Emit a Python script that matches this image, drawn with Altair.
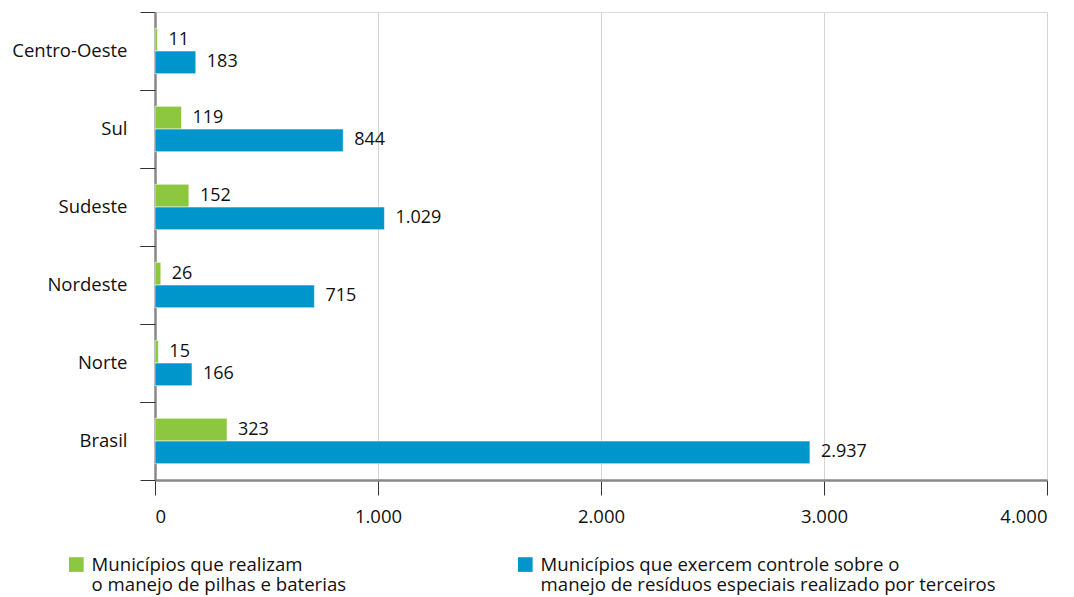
import altair as alt
import pandas as pd

# Regions, top to bottom
regioes = ["Centro-Oeste", "Sul", "Sudeste", "Nordeste", "Norte", "Brasil"]

# Number of municipalities per series
pilhas = [11, 119, 152, 26, 15, 323]
terceiros = [183, 844, 1029, 715, 166, 2937]

series = [
    "Municípios que realizam\no manejo de pilhas e baterias",
    "Municípios que exercem controle sobre o\nmanejo de resíduos especiais realizado por terceiros",
]
cores = ["#8dc63f", "#0096cc"]
x_ticks = [0, 1000, 2000, 3000, 4000]

rows = []
for reg, a, b in zip(regioes, pilhas, terceiros):
    rows.append({"regiao": reg, "serie": series[0], "valor": a})
    rows.append({"regiao": reg, "serie": series[1], "valor": b})
df = pd.DataFrame(rows)

FONT = "Open Sans"
FS_AXIS = 18.5
FS_VAL = 18
FS_LEG = 18.6
thousands = "replace(format(datum.value, ','), ',', '.')"

x_enc = alt.X(
    "valor:Q",
    scale=alt.Scale(domain=[0, 4000], nice=False),
    axis=alt.Axis(
        values=x_ticks,
        labelExpr=thousands,
        title=None,
        grid=True,
        gridColor="#d4d4d4",
        gridWidth=1,
        tickSize=15,
        tickColor="#333333",
        tickWidth=1,
        domainColor="#888888",
        domainWidth=2.5,
        labelPadding=12,
        labelFontSize=FS_AXIS,
        labelColor="#111111",
        labelFont=FONT,
    ),
)

y_scale = alt.Scale(paddingInner=0, paddingOuter=0)
off_enc = alt.YOffset(
    "serie:N", sort=series, scale=alt.Scale(paddingInner=0, paddingOuter=0.72)
)

bars = (
    alt.Chart(df)
    .mark_bar(stroke="white", strokeWidth=1, strokeOpacity=0.55)
    .encode(
        x=x_enc,
        y=alt.Y(
            "regiao:N",
            sort=regioes,
            scale=y_scale,
            axis=alt.Axis(
                orient="left",
                title=None,
                bandPosition=0,
                tickSize=15,
                tickColor="#333333",
                tickWidth=1,
                domainColor="#888888",
                domainWidth=2.5,
                labelPadding=13,
                labelFontSize=FS_AXIS,
                labelFont=FONT,
                labelColor="#111111",
                grid=False,
            ),
        ),
        yOffset=off_enc,
        color=alt.Color(
            "serie:N",
            sort=series,
            scale=alt.Scale(domain=series, range=cores),
            legend=alt.Legend(
                title=None,
                orient="none",
                legendX=-88,
                legendY=543,
                direction="horizontal",
                columns=2,
                columnPadding=169,
                symbolType="square",
                symbolSize=215,
                symbolStrokeWidth=0,
                symbolOpacity=1,
                labelFontSize=FS_LEG,
                labelFont=FONT,
                labelColor="#111111",
                labelLimit=0,
                labelOffset=6,
                labelExpr="split(datum.label, '\\n')",
            ),
        ),
    )
)

labels = (
    alt.Chart(df)
    .transform_calculate(rotulo=thousands.replace("datum.value", "datum.valor"))
    .mark_text(align="left", baseline="middle", dx=11, font=FONT, fontSize=FS_VAL, color="#111111")
    .encode(
        x=alt.X("valor:Q"),
        y=alt.Y(
            "regiao:N",
            sort=regioes,
            scale=y_scale,
            axis=alt.Axis(
                orient="left",
                title=None,
                bandPosition=1,
                labels=False,
                domain=False,
                grid=False,
                tickSize=15,
                tickColor="#333333",
                tickWidth=1,
            ),
        ),
        yOffset=off_enc,
        text="rotulo:N",
    )
)

chart = (
    alt.layer(bars, labels)
    .resolve_axis(y="independent")
    .properties(
        width=892,
        height=468,
        autosize=alt.AutoSizeParams(type="none"),
        padding={"left": 155, "top": 12, "right": 27, "bottom": 117},
        background="white",
    )
    .configure_view(stroke=None)
    .configure(font=FONT)
)

chart.save("out.html", embed_options={"renderer": "svg", "actions": False})
